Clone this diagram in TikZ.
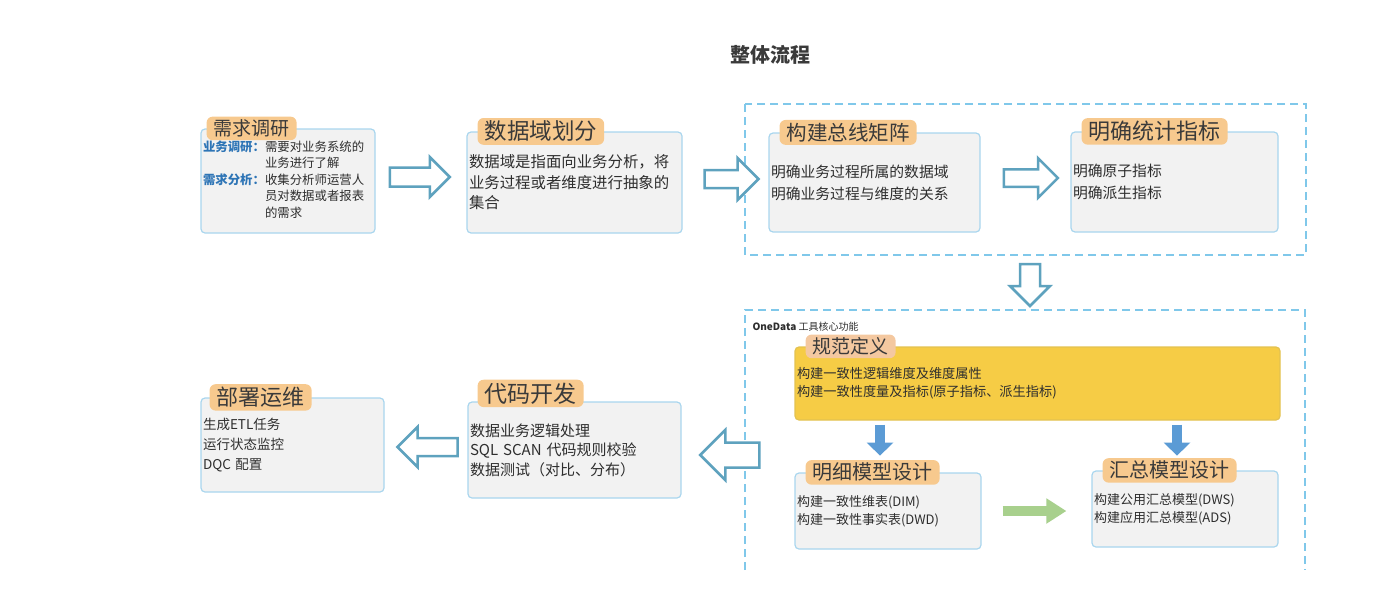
\documentclass[tikz,border=0pt]{standalone}
\usepackage{fontspec}
\setmainfont{Noto Sans CJK SC}
\usepackage{xcolor}
\usepackage{tikz}
\usetikzlibrary{shapes.arrows, arrows.meta, positioning}

\definecolor{boxline}{HTML}{A9D6EE}
\definecolor{boxfill}{HTML}{F2F2F2}
\definecolor{tagfill}{HTML}{F7C98E}
\definecolor{tagtext}{HTML}{3A3A3A}
\definecolor{bodytext}{HTML}{2E2E2E}
\definecolor{arrowline}{HTML}{5EA2BE}
\definecolor{frameline}{HTML}{80C8EA}
\definecolor{specfill}{HTML}{F6CC45}
\definecolor{specline}{HTML}{E3C250}
\definecolor{spectag}{HTML}{F4C8A0}
\definecolor{bluefill}{HTML}{5B9BD5}
\definecolor{greenfill}{HTML}{A8D08D}
\definecolor{labelblue}{HTML}{2E75B6}

\newcommand{\fsz}[2]{\fontsize{#1}{#2}\selectfont}

\begin{document}
\begin{tikzpicture}[x=1pt, y=-1pt]
    \tikzstyle{box} = [draw=boxline, fill=boxfill, line width=1.2pt, rounded corners=4pt, inner xsep=2pt, align=left, text=bodytext]
    \tikzstyle{tag} = [fill=tagfill, rounded corners=6pt, inner xsep=7pt, inner ysep=3pt, text=tagtext, anchor=west]
    \tikzstyle{hollow} = [single arrow, draw=arrowline, fill=white, line width=2.5pt, inner sep=0pt]
    \tikzstyle{dashframe} = [draw=frameline, line width=1.5pt, dash pattern=on 8pt off 5pt]
    \tikzstyle{bluearr} = [draw=bluefill, line width=10pt, -{Triangle[length=13pt, width=26pt]}]
    \tikzstyle{greenarr} = [draw=greenfill, line width=10pt, -{Triangle[length=20pt, width=24pt]}]

    \useasboundingbox (0,0) rectangle (1398,600);

    % Title
    \node[font=\fsz{20}{20}\bfseries, text=tagtext] (title) at (770,55) {整体流程};

    % Dashed groups
    \draw[dashframe] (745,104) rectangle (1306,255);
    \draw[dashframe] (745,570) |- (1305,310) -- (1305,570);
    \node[anchor=west, font=\fsz{10}{12}, text=bodytext] (onedata) at (749,327) {\textbf{OneData} 工具核心功能};

    % Top row
    \node[box, minimum width=174pt, minimum height=104pt, text width=170pt, font=\fsz{12.4}{16.5}] (req) at (288,181) {%
        \begin{tabular}{@{}l@{}l@{}}
        \textcolor{labelblue}{\bfseries 业务调研：} & 需要对业务系统的\\
         & 业务进行了解\\
        \textcolor{labelblue}{\bfseries 需求分析：} & 收集分析师运营人\\
         & 员对数据或者报表\\
         & 的需求
        \end{tabular}};
    \node[tag, font=\fsz{19}{19}] (reqtag) at ([xshift=6pt]req.north west) {需求调研};

    \node[box, minimum width=215pt, minimum height=101pt, text width=211pt, font=\fsz{15.4}{20.5}] (domain) at (574.5,182.5) {数据域是指面向业务分析，将\\业务过程或者维度进行抽象的\\集合};
    \node[tag, font=\fsz{22.5}{22.5}] (domaintag) at ([xshift=11pt]domain.north west) {数据域划分};

    \node[box, minimum width=211pt, minimum height=99pt, text width=207pt, font=\fsz{14.8}{22}] (bus) at (874.5,182.5) {明确业务过程所属的数据域\\明确业务过程与维度的关系};
    \node[tag, font=\fsz{20.5}{20.5}] (bustag) at ([xshift=11pt]bus.north west) {构建总线矩阵};

    \node[box, minimum width=207pt, minimum height=100pt, text width=203pt, font=\fsz{14.8}{22}] (index) at (1174.5,182) {明确原子指标\\明确派生指标};
    \node[tag, font=\fsz{22}{22}] (indextag) at ([xshift=11pt]index.north west) {明确统计指标};

    % OneData part
    \node[box, fill=specfill, draw=specline, minimum width=485pt, minimum height=73pt, text width=481pt, font=\fsz{13.2}{18}] (spec) at (1037.5,383.5) {构建一致性逻辑维度及维度属性\\构建一致性度量及指标(原子指标、派生指标)};
    \node[tag, fill=spectag, font=\fsz{19}{19}] (spectag) at ([xshift=11pt]spec.north west) {规范定义};

    \node[box, minimum width=186pt, minimum height=76pt, text width=182pt, font=\fsz{13}{18}] (detail) at (888,511) {构建一致性维表(DIM)\\构建一致性事实表(DWD)};
    \node[tag, font=\fsz{20}{20}] (detailtag) at ([xshift=11pt]detail.north west) {明细模型设计};

    \node[box, minimum width=186pt, minimum height=76pt, text width=182pt, font=\fsz{13}{18}] (summ) at (1185,509) {构建公用汇总模型(DWS)\\构建应用汇总模型(ADS)};
    \node[tag, font=\fsz{20}{20}] (summtag) at ([xshift=11pt]summ.north west) {汇总模型设计};

    % Bottom row
    \node[box, minimum width=213pt, minimum height=96pt, text width=209pt, font=\fsz{15}{19.5}] (code) at (574.5,450) {数据业务逻辑处理\\SQL SCAN 代码规则校验\\数据测试（对比、分布）};
    \node[tag, font=\fsz{23}{23}] (codetag) at ([xshift=10pt, yshift=8pt]code.north west) {代码开发};

    \node[box, minimum width=183pt, minimum height=94pt, text width=179pt, font=\fsz{13.5}{20}] (deploy) at (292.5,445) {生成ETL任务\\运行状态监控\\DQC 配置};
    \node[tag, font=\fsz{22}{22}] (deploytag) at ([xshift=9pt]deploy.north west) {部署运维};

    % Hollow arrows
    \node[hollow, minimum height=60pt, inner ysep=8.25pt, single arrow head extend=10.5pt] (go1) at (415,177) {};
    \node[hollow, minimum height=54pt, inner ysep=7.75pt, single arrow head extend=12pt] (go2) at (727,179) {};
    \node[hollow, minimum height=54pt, inner ysep=7.5pt, single arrow head extend=11pt] (go3) at (1026.5,178) {};
    \node[hollow, rotate=-90, minimum height=42pt, inner ysep=8.75pt, single arrow head extend=10pt] (godown) at (1030,280) {};
    \node[hollow, rotate=180, minimum height=59pt, inner ysep=11.25pt, single arrow head extend=12.5pt] (back1) at (736,455) {};
    \node[hollow, rotate=180, minimum height=60pt, inner ysep=7.75pt, single arrow head extend=11pt] (back2) at (432,447) {};

    % Solid arrows
    \draw[bluearr] ([xshift=-157.5pt, yshift=-4pt]spec.south) -- ([xshift=-157.5pt, yshift=-35pt]spec.south);
    \draw[bluearr] ([xshift=139.5pt, yshift=-4pt]spec.south) -- ([xshift=139.5pt, yshift=-35pt]spec.south);
    \draw[greenarr, shorten <=21pt, shorten >=25pt] (detail.east) -- (detail.east -| summ.west);
\end{tikzpicture}
\end{document}
